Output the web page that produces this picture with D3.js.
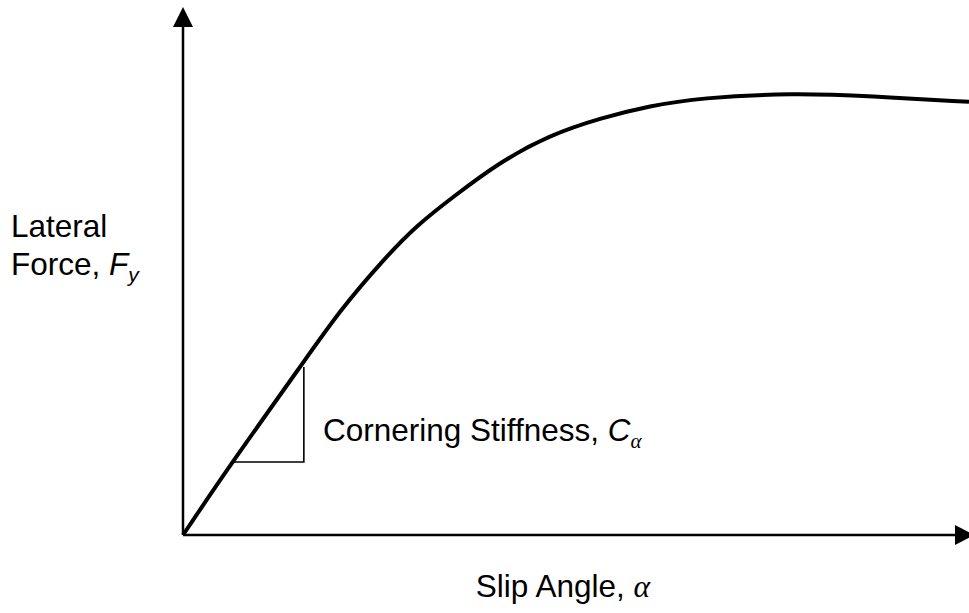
<!DOCTYPE html>
<html>
<head>
<meta charset="utf-8">
<script src="https://cdn.jsdelivr.net/npm/d3@7"></script>
<style>
  body { margin: 0; background: #fff; }
  text { font-family: "Liberation Sans", Arial, sans-serif; fill: #000; }
</style>
</head>
<body>
<div id="chart"></div>
<script>
var width = 969, height = 613;

// slip angle (deg) and normalised lateral force
var slipAngle = [0, 1.0, 2.44, 3.2, 4.07, 4.76, 5.5, 6.45, 7.47, 8.49, 9.51, 10.52, 12.42, 13.98, 16];
var lateralForce = [0, 0.165, 0.389, 0.509, 0.622, 0.701, 0.765, 0.844, 0.905, 0.943, 0.971, 0.989, 1.0, 0.993, 0.980];

// stiffness triangle: two slip angles and the two forces
var triAngle = [1.0, 2.46];
var triForce = [0.165, 0.38];

var x = d3.scaleLinear().domain([0, 16]).range([183, 969]);
var y = d3.scaleLinear().domain([0, 1]).range([535, 93]);

var svg = d3.select("#chart").append("svg")
    .attr("width", width).attr("height", height);

// axes with arrow heads
svg.append("line")
    .attr("x1", x(0)).attr("y1", y(0))
    .attr("x2", 958).attr("y2", y(0))
    .attr("stroke", "black").attr("stroke-width", 2.5);
svg.append("path")
    .attr("d", "M955," + (y(0) - 10) + "L974," + y(0) + "L955," + (y(0) + 10) + "Z")
    .attr("fill", "black");

svg.append("line")
    .attr("x1", x(0)).attr("y1", y(0))
    .attr("x2", x(0)).attr("y2", 24)
    .attr("stroke", "black").attr("stroke-width", 2.5);
svg.append("path")
    .attr("d", "M" + (x(0) - 10) + ",27L" + x(0) + ",7L" + (x(0) + 10) + ",27Z")
    .attr("fill", "black");

// triangle
svg.append("path")
    .attr("d", "M" + x(triAngle[0]) + "," + y(triForce[0]) +
               "L" + x(triAngle[1]) + "," + y(triForce[0]) +
               "L" + x(triAngle[1]) + "," + y(triForce[1]))
    .attr("fill", "none")
    .attr("stroke", "black")
    .attr("stroke-width", 1.6);

// curve
var pts = slipAngle.map(function(a, i){ return [a, lateralForce[i]]; });
var line = d3.line()
    .x(function(d){ return x(d[0]); })
    .y(function(d){ return y(d[1]); })
    .curve(d3.curveBasis);

svg.append("path")
    .datum(pts)
    .attr("d", line)
    .attr("fill", "none")
    .attr("stroke", "black")
    .attr("stroke-width", 4);

// labels
var fs = 31.5;
svg.append("text").attr("x", 11).attr("y", 237).attr("font-size", fs).text("Lateral");
var t2 = svg.append("text").attr("x", 11).attr("y", 275).attr("font-size", fs);
t2.append("tspan").text("Force, ");
t2.append("tspan").attr("font-style", "italic").text("F");
t2.append("tspan").attr("font-style", "italic").attr("font-size", 21).attr("dy", 7).text("y");

var t3 = svg.append("text").attr("x", 323).attr("y", 441).attr("font-size", fs);
t3.append("tspan").text("Cornering Stiffness, ");
t3.append("tspan").attr("font-style", "italic").text("C");
t3.append("tspan").attr("font-family", "'Liberation Serif', serif").attr("font-style", "italic")
    .attr("font-size", 21).attr("dy", 7).text("α");

var t4 = svg.append("text").attr("x", 650).attr("y", 597).attr("font-size", fs)
    .attr("text-anchor", "end");
t4.append("tspan").text("Slip Angle, ");
t4.append("tspan").attr("font-family", "'Liberation Serif', serif").attr("font-style", "italic")
    .text("α");
</script>
</body>
</html>
